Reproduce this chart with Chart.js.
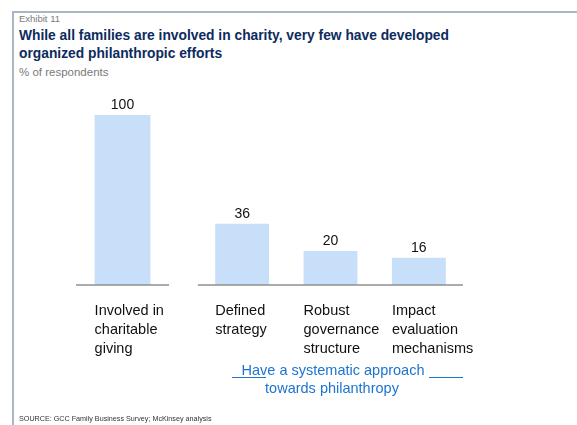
<!DOCTYPE html>
<html>
<head>
<meta charset="utf-8">
<script src="https://cdn.jsdelivr.net/npm/chart.js@4"></script>
<style>
  html, body { margin: 0; padding: 0; background: #fff; }
  body { width: 577px; height: 425px; position: relative; overflow: hidden; font-family: 'Liberation Sans', Arial, sans-serif; }
  .frame { position: absolute; left: 12px; top: 11px; right: 0; bottom: 0; border-top: 2px solid #a7b7c5; border-left: 2px solid #a7b7c5; }
  .txt { position: absolute; white-space: nowrap; }
  #exhibit { left: 19px; top: 13px; font-size: 9.5px; color: #7a7a7a; }
  #title { left: 19px; top: 27px; font-size: 13.8px; font-weight: bold; color: #0c2b5e; line-height: 18px; }
  #unit { left: 19px; top: 66px; font-size: 11.5px; color: #7a7a7a; }
  #source { left: 19px; top: 414px; font-size: 7.2px; color: #333; }
  .note { position: absolute; font-size: 14.5px; color: #1d74d0; white-space: nowrap; text-align: center; transform: translateX(-50%); }
  .rule { position: absolute; height: 0; border-top: 1.5px solid #1d74d0; }
  canvas { position: absolute; left: 0; top: 0; }
</style>
</head>
<body>
<div class="frame"></div>
<div class="txt" id="exhibit">Exhibit 11</div>
<div class="txt" id="title">While all families are involved in charity, very few have developed<br>organized philanthropic efforts</div>
<div class="txt" id="unit">% of respondents</div>

<canvas id="chartA" width="577" height="425"></canvas>
<canvas id="chartB" width="577" height="425"></canvas>

<div class="note" style="left:333px; top:362px;">Have a systematic approach</div>
<div class="note" style="left:332px; top:380px;">towards philanthropy</div>
<div class="rule" style="left:232px; top:377px; width:34px;"></div>
<div class="rule" style="left:429px; top:377px; width:34px;"></div>

<div class="txt" id="source">SOURCE: GCC Family Business Survey; McKinsey analysis</div>

<script>
const categories = [
  ['Involved in', 'charitable', 'giving'],
  ['Defined', 'strategy'],
  ['Robust', 'governance', 'structure'],
  ['Impact', 'evaluation', 'mechanisms']
];
const values = [100, 36, 20, 16];
const yMax = 100;

const barColor = '#c7dff8';
const axisColor = '#8f8f8f';
const textColor = '#111';

// value labels, category labels and the baseline
const labelPlugin = {
  id: 'labels',
  afterDatasetsDraw(chart) {
    const ctx = chart.ctx;
    const area = chart.chartArea;
    const y0 = chart.scales.y.getPixelForValue(0);
    ctx.save();
    ctx.strokeStyle = axisColor;
    ctx.lineWidth = 1.5;
    ctx.beginPath();
    ctx.moveTo(area.left, y0);
    ctx.lineTo(area.right, y0);
    ctx.stroke();

    const meta = chart.getDatasetMeta(0);
    const labels = chart.data.labels;
    meta.data.forEach((bar, i) => {
      ctx.fillStyle = textColor;
      ctx.font = '14px "Liberation Sans", Arial, sans-serif';
      ctx.textAlign = 'center';
      ctx.textBaseline = 'middle';
      ctx.fillText(chart.data.datasets[0].data[i], bar.x, bar.y - 10);

      ctx.font = '14.5px "Liberation Sans", Arial, sans-serif';
      ctx.textAlign = 'left';
      const left = bar.x - bar.width / 2;
      labels[i].forEach((line, k) => {
        ctx.fillText(line, left, y0 + 26 + k * 19.2);
      });
    });
    ctx.restore();
  }
};

function makeChart(id, cats, vals, pad, barPct) {
  return new Chart(document.getElementById(id), {
    type: 'bar',
    data: {
      labels: cats,
      datasets: [{
        data: vals,
        backgroundColor: barColor,
        borderWidth: 0,
        barPercentage: barPct,
        categoryPercentage: 1
      }]
    },
    options: {
      responsive: false,
      animation: false,
      layout: { padding: pad },
      plugins: { legend: { display: false }, tooltip: { enabled: false } },
      scales: {
        x: { display: false },
        y: { display: false, min: 0, max: yMax }
      }
    },
    plugins: [labelPlugin]
  });
}

makeChart('chartA', categories.slice(0, 1), values.slice(0, 1),
  { left: 76, right: 408, top: 115, bottom: 140 }, 0.6);
makeChart('chartB', categories.slice(1), values.slice(1),
  { left: 198, right: 114, top: 115, bottom: 140 }, 0.61);
</script>
</body>
</html>
